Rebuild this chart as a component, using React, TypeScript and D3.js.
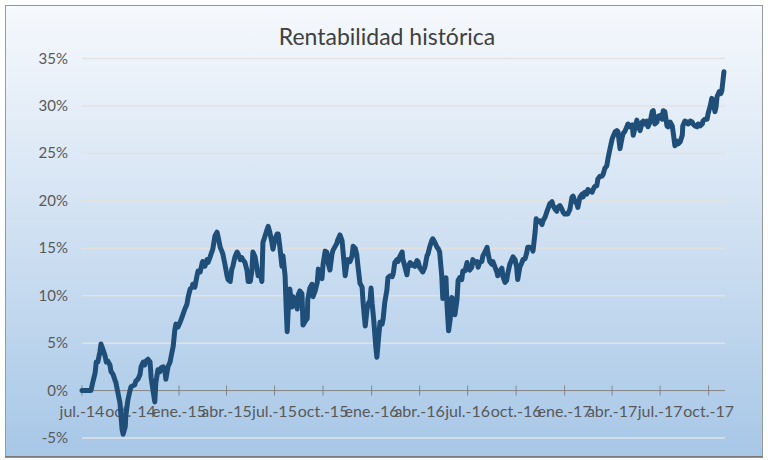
import * as d3 from 'd3';

// Serie diaria (muestreada) de rentabilidad acumulada, en %
const inicio = new Date(2014, 6, 1);
const finEje = 1219; // días desde el inicio hasta el final del eje

const dias = [
  0, 17, 21, 25, 27, 30, 34, 36, 40, 44, 46, 49, 53, 55, 59, 63, 64, 68, 72, 74,
  76, 78, 82, 83, 87, 91, 93, 100, 102, 106, 110, 112, 116, 119, 121, 125, 129, 131, 135, 138,
  140, 144, 148, 150, 154, 157, 159, 163, 167, 169, 173, 176, 178, 182, 186, 190, 195, 199, 201, 205,
  209, 210, 214, 218, 220, 224, 228, 229, 233, 237, 239, 243, 246, 248, 252, 256, 258, 262, 265, 267,
  271, 275, 277, 281, 284, 286, 290, 294, 296, 300, 303, 305, 309, 313, 315, 319, 322, 324, 328, 332,
  334, 337, 341, 343, 347, 351, 353, 356, 360, 362, 366, 370, 372, 375, 379, 381, 385, 387, 389, 392,
  394, 398, 400, 404, 408, 410, 413, 417, 419, 423, 427, 428, 432, 436, 438, 442, 446, 448, 451, 455,
  457, 461, 464, 466, 470, 474, 476, 480, 483, 485, 489, 493, 495, 499, 502, 504, 508, 512, 514, 518,
  521, 523, 527, 531, 533, 537, 540, 542, 546, 548, 550, 553, 557, 559, 563, 565, 569, 571, 574, 578,
  580, 584, 588, 590, 593, 597, 599, 603, 607, 608, 612, 616, 618, 622, 625, 627, 631, 635, 637, 640,
  645, 646, 650, 654, 656, 659, 663, 665, 669, 673, 675, 678, 682, 684, 688, 690, 692, 695, 698, 701,
  703, 707, 711, 713, 716, 720, 722, 726, 730, 731, 735, 739, 741, 745, 749, 751, 754, 758, 760, 764,
  768, 769, 773, 777, 779, 783, 787, 788, 792, 796, 798, 802, 805, 807, 811, 815, 817, 821, 824, 826,
  830, 834, 836, 840, 843, 845, 849, 853, 855, 859, 861, 864, 868, 872, 874, 878, 881, 883, 887, 891,
  893, 897, 900, 902, 906, 910, 912, 915, 919, 921, 925, 929, 931, 934, 938, 940, 944, 948, 950, 953,
  957, 959, 963, 967, 969, 972, 976, 978, 982, 986, 988, 991, 995, 997, 1001, 1005, 1007, 1011, 1014, 1016,
  1020, 1024, 1026, 1029, 1033, 1035, 1039, 1043, 1045, 1048, 1052, 1054, 1058, 1062, 1064, 1067, 1071, 1073, 1077, 1081,
  1083, 1086, 1090, 1092, 1096, 1100, 1102, 1105, 1109, 1111, 1115, 1119, 1121, 1124, 1128, 1130, 1134, 1138, 1139, 1143,
  1147, 1149, 1153, 1157, 1158, 1162, 1166, 1168, 1172, 1176, 1177, 1181, 1185, 1187, 1191, 1194, 1196, 1200, 1202, 1204,
  1208, 1211, 1213, 1215, 1217,
];

const rentabilidad = [
  0, 0, 1.0, 1.9, 3.0, 3.0, 4.1, 4.9, 4.3, 3.6, 3.0, 3.1, 2.7, 2.0, 1.7, 1.0, 0.9, -0.2, -1.3, -2.7,
  -4.1, -4.6, -3.8, -2.7, -1.0, 0, 0.4, 0.6, 1.0, 1.2, 1.7, 2.5, 3.0, 2.7, 3.1, 3.3, 3.0, 1.4, -0.1, -1.2,
  0.8, 2.2, 2.0, 2.4, 2.5, 2.2, 1.2, 2.5, 3.0, 3.6, 4.7, 6.4, 7.0, 6.7, 7.2, 7.8, 8.6, 9.1, 9.8, 10.7,
  10.9, 11.2, 10.9, 12.1, 12.6, 12.5, 13.5, 13.6, 13.1, 13.8, 13.5, 14.1, 14.6, 14.9, 16.3, 16.7, 16.2, 15.1, 14.7, 14.4,
  13.3, 12.1, 11.7, 11.5, 12.8, 13.1, 14.1, 14.6, 14.4, 13.8, 14.0, 13.8, 13.5, 12.6, 11.5, 11.5, 12.6, 14.6, 14.1, 12.8,
  12.1, 12.6, 11.5, 15.6, 16.3, 17.0, 17.3, 16.7, 15.6, 14.9, 16.0, 16.5, 16.5, 15.2, 13.1, 14.2, 12.1, 8.9, 6.2, 9.6,
  10.7, 8.8, 9.9, 9.6, 8.6, 10.1, 10.5, 10.2, 6.9, 7.3, 7.6, 9.6, 10.8, 11.2, 9.9, 10.5, 11.4, 12.8, 12.6, 11.8,
  13.3, 14.7, 14.6, 13.6, 12.7, 14.4, 14.8, 15.2, 15.5, 15.9, 16.4, 15.8, 14.6, 12.1, 13.3, 13.8, 13.6, 14.2, 15.2, 15.0,
  14.3, 13.2, 11.3, 10.9, 9.2, 6.8, 8.4, 9.1, 9.5, 10.8, 9.2, 7.5, 4.6, 3.5, 6.0, 7.2, 7.0, 7.6, 9.3, 10.6,
  11.9, 12.1, 12.0, 12.3, 13.5, 13.8, 13.6, 14.2, 14.6, 13.9, 13.1, 12.2, 13.0, 13.5, 13.2, 13.3, 13.1, 13.7, 13.6, 13.0,
  12.6, 12.5, 13.0, 14.2, 14.4, 15.1, 15.8, 16.0, 15.6, 15.1, 15.0, 14.6, 12.1, 9.7, 10.2, 11.9, 9.0, 6.3, 7.5, 9.8,
  9.7, 8.0, 9.6, 11.6, 11.9, 11.7, 12.6, 12.6, 13.5, 12.9, 12.7, 13.0, 13.8, 13.5, 13.6, 13.0, 13.5, 13.6, 14.2, 14.6,
  15.1, 14.7, 13.6, 13.3, 13.6, 13.0, 12.4, 12.1, 12.6, 12.9, 12.0, 11.4, 11.6, 12.3, 13.3, 13.8, 14.1, 13.8, 13.0, 11.7,
  13.0, 13.5, 13.8, 13.9, 14.5, 15.1, 15.1, 15.0, 14.7, 16.7, 18.1, 17.8, 17.9, 17.5, 17.9, 18.3, 18.8, 19.1, 19.7, 19.9,
  19.5, 19.1, 18.9, 19.3, 19.5, 19.1, 18.8, 18.6, 18.6, 18.6, 19.1, 20.4, 20.5, 20.0, 19.7, 19.3, 20.4, 20.7, 20.4, 20.9,
  20.7, 21.2, 21.0, 20.9, 21.2, 21.5, 21.6, 22.3, 22.6, 22.6, 22.8, 23.4, 23.7, 24.4, 25.5, 26.5, 26.8, 27.3, 27.4, 27.3,
  25.5, 26.7, 27.1, 27.3, 27.8, 28.1, 27.8, 28.0, 26.9, 27.6, 28.5, 28.0, 27.4, 28.3, 28.4, 28.1, 28.4, 27.8, 28.3, 29.4,
  29.5, 28.1, 28.3, 28.9, 29.0, 28.6, 29.5, 29.4, 27.9, 27.8, 28.3, 27.9, 27.1, 25.8, 26.3, 26.0, 26.2, 26.9, 27.9, 28.4,
  28.3, 28.1, 28.4, 28.3, 28.1, 27.9, 27.8, 28.1, 27.9, 28.1, 28.4, 28.6, 28.6, 29.2, 30.0, 30.8, 30.5, 29.4, 29.9, 31.0,
  31.5, 31.3, 31.6, 32.6, 33.6,
];

const yTicks = [-5, 0, 5, 10, 15, 20, 25, 30, 35];
const meses = ['ene.', 'feb.', 'mar.', 'abr.', 'may.', 'jun.', 'jul.', 'ago.', 'sep.', 'oct.', 'nov.', 'dic.'];

const W = 768;
const H = 460;
const FONT = "Lato, 'Open Sans', sans-serif";

export default function App() {
  const x = d3
    .scaleTime()
    .domain([inicio, d3.timeDay.offset(inicio, finEje)])
    .range([82, 725]);
  const y = d3.scaleLinear().domain([-5, 35]).range([438, 58.5]);

  const datos = dias.map((d, i) => ({ fecha: d3.timeDay.offset(inicio, d), v: rentabilidad[i] }));

  const linea = d3
    .line<{ fecha: Date; v: number }>()
    .x((d) => x(d.fecha))
    .y((d) => y(d.v));

  const xTicks = d3.timeMonth.range(inicio, new Date(2017, 10, 1), 3);
  const etiqueta = (d: Date) => `${meses[d.getMonth()]}-${String(d.getFullYear()).slice(2)}`;

  const [x0, x1] = x.range();
  const y0 = y(0);

  return (
    <svg
      width={W}
      height={H}
      style={{ position: 'absolute', left: 0, top: 0, display: 'block' }}
    >
      <defs>
        <linearGradient id="fondo" x1="0" y1="0" x2="0" y2="1">
          <stop offset="0%" stopColor="#f6f9fd" />
          <stop offset="45%" stopColor="#d4e3f3" />
          <stop offset="100%" stopColor="#a7c7e7" />
        </linearGradient>
      </defs>
      <rect x={0} y={0} width={W} height={H} fill="#ffffff" />
      <rect x={5.5} y={5.5} width={757} height={451} fill="url(#fondo)" stroke="#9a9a9a" />
      <line x1={5} x2={763} y1={457} y2={457} stroke="#6e6e6e" strokeWidth={1.5} />

      <text
        x={387}
        y={45}
        textAnchor="middle"
        fontFamily={FONT}
        fontSize={23}
        fill="#404040"
      >
        Rentabilidad histórica
      </text>

      {/* Líneas de división */}
      {yTicks
        .filter((t) => t !== 0)
        .map((t) => (
          <line key={t} x1={x0} x2={x1} y1={y(t)} y2={y(t)} stroke="#e2e2e2" strokeWidth={1.5} />
        ))}

      {/* Etiquetas eje Y */}
      {yTicks.map((t) => (
        <text
          key={t}
          x={68}
          y={y(t) + 5}
          textAnchor="end"
          fontFamily={FONT}
          fontSize={15}
          fill="#595959"
        >
          {`${t}%`}
        </text>
      ))}

      {/* Eje X en 0% */}
      <line x1={x0} x2={x1} y1={y0} y2={y0} stroke="#868686" strokeWidth={1} />
      {xTicks.map((d, i) => (
        <g key={i}>
          <line x1={x(d)} x2={x(d)} y1={y0 - 5} y2={y0 + 5} stroke="#868686" strokeWidth={1} />
          <text
            x={x(d)}
            y={y0 + 26}
            textAnchor="middle"
            fontFamily={FONT}
            fontSize={16}
            fill="#595959"
          >
            {etiqueta(d)}
          </text>
        </g>
      ))}

      <path
        d={linea(datos) ?? ''}
        fill="none"
        stroke="#1f4e79"
        strokeWidth={5}
        strokeLinejoin="round"
        strokeLinecap="round"
      />
    </svg>
  );
}
